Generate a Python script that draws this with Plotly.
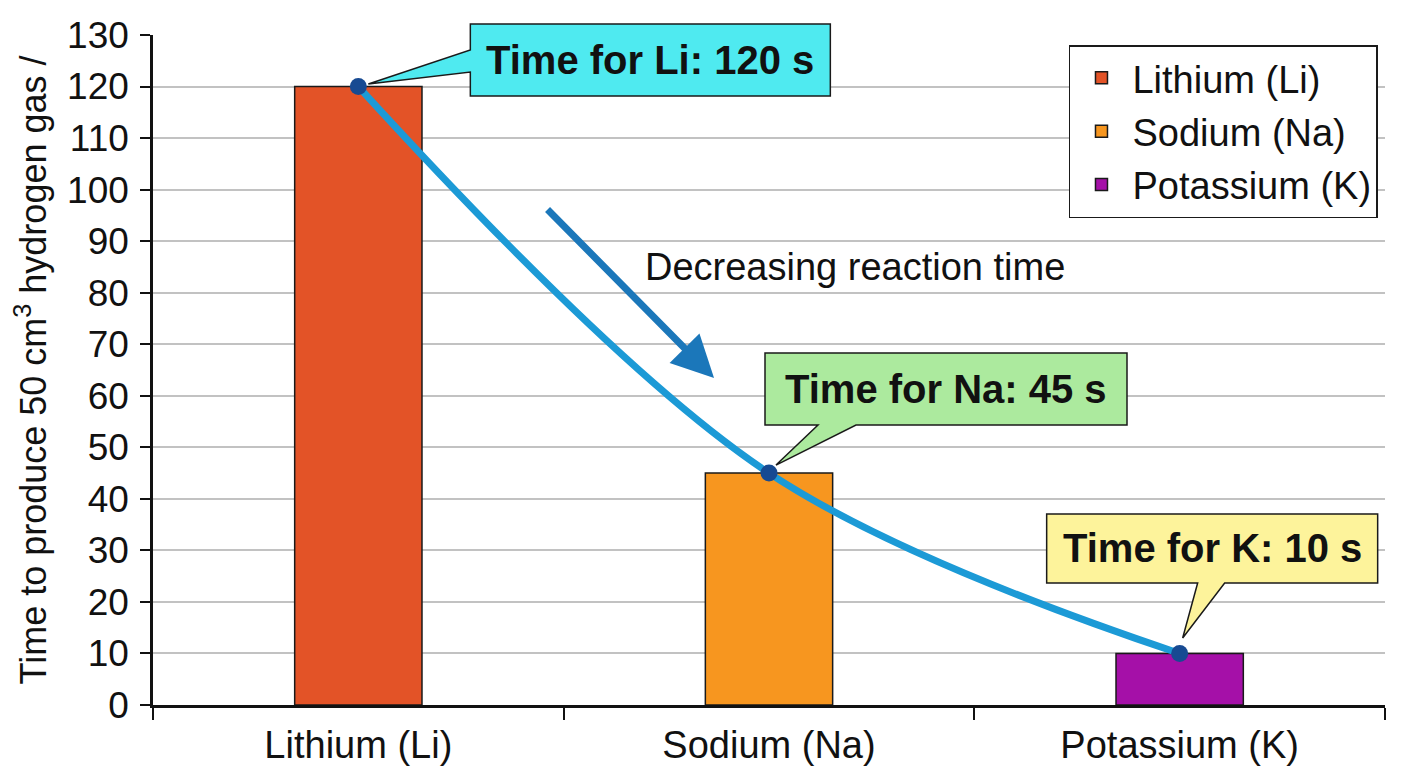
import plotly.graph_objects as go

# ---- data ----
metals = ["Lithium (Li)", "Sodium (Na)", "Potassium (K)"]
times = [120, 45, 10]
bar_colors = ["#e35327", "#f7961f", "#a510a8"]
callout_texts = ["Time for Li: 120 s", "Time for Na: 45 s", "Time for K: 10 s"]
callout_colors = ["#4feaf0", "#acea9e", "#fdf39b"]
y_ticks = list(range(0, 131, 10))
arrow_label = "Decreasing reaction time"
y_title = "Time to produce 50 cm<sup>3</sup> hydrogen gas /"

FONT = "Liberation Sans, Arial, sans-serif"
X_RANGE = [-0.5, 2.5]
Y_RANGE = [0, 130]

fig = go.Figure()

for name, val, col in zip(metals, times, bar_colors):
    fig.add_trace(go.Bar(
        x=[name], y=[val], name=name, width=0.31, legendgroup=name,
        marker=dict(color=col, line=dict(color="#1a1a1a", width=1.5)),
    ))

fig.add_trace(go.Scatter(
    x=metals, y=times, mode="lines+markers", showlegend=False,
    line=dict(color="#1c9ad6", width=7, shape="spline", smoothing=1),
    marker=dict(color="#174a92", size=17),
))

# speech-bubble callouts (pixel offsets relative to each data point)
bubble_paths = [
    "M 112,62.5 L 472,62.5 L 472,-9.5 L 112,-9.5 L 112,14.5 L 10,2.5 L 112,36.5 Z",
    "M -4,120 L 358,120 L 358,48 L 87,48 L 7,8 L 49,48 L -4,48 Z",
    "M -133,139.5 L 198,139.5 L 198,70.5 L 45,70.5 L 3,15.5 L 18,70.5 L -133,70.5 Z",
]
text_shift = [(292, 26.5), (177, 84), (32.5, 105)]

shapes = []
annotations = []
for i, (path, col) in enumerate(zip(bubble_paths, callout_colors)):
    # anchor each bubble on its data point, expressed in paper space (no clipping)
    ax_paper = (i - X_RANGE[0]) / (X_RANGE[1] - X_RANGE[0])
    ay_paper = (times[i] - Y_RANGE[0]) / (Y_RANGE[1] - Y_RANGE[0])
    shapes.append(dict(
        type="path", xref="paper", yref="paper", xsizemode="pixel", ysizemode="pixel",
        xanchor=ax_paper, yanchor=ay_paper, path=path,
        fillcolor=col, line=dict(color="#1a1a1a", width=1.5), layer="above",
    ))
    annotations.append(dict(
        xref="x", yref="y", x=metals[i], y=times[i],
        xshift=text_shift[i][0], yshift=text_shift[i][1],
        text="<b>" + callout_texts[i] + "</b>", showarrow=False,
        font=dict(family=FONT, size=40, color="#111111"),
    ))

# trend arrow
annotations.append(dict(
    xref="paper", yref="paper", x=0.4554, y=0.488, ax=-168, ay=-170,
    text="", showarrow=True, arrowhead=2, arrowsize=1.2, arrowwidth=7,
    arrowcolor="#1b77ba",
))
annotations.append(dict(
    xref="paper", yref="paper", x=(855 - 153) / 1232, y=(705 - 267) / 670,
    text=arrow_label, showarrow=False,
    font=dict(family=FONT, size=38, color="#111111"),
))

fig.update_layout(
    width=1400, height=760,
    margin=dict(l=145, r=23, t=27, b=63, autoexpand=False),
    paper_bgcolor="white", plot_bgcolor="white",
    barmode="overlay",
    font=dict(family=FONT, size=38, color="#111111"),
    shapes=shapes, annotations=annotations,
    legend=dict(
        x=0.9943, y=0.985, xanchor="right", yanchor="top",
        bgcolor="white", bordercolor="#1a1a1a", borderwidth=1.5,
        font=dict(family=FONT, size=38, color="#111111"),
        itemwidth=52, tracegroupgap=1,
    ),
    xaxis=dict(
        type="category", categoryorder="array", categoryarray=metals,
        range=X_RANGE, automargin=False,
        showline=True, linecolor="#111111", linewidth=3,
        ticks="outside", tickson="boundaries", ticklen=12, tickwidth=2,
        tickcolor="#111111", showgrid=False, ticklabelstandoff=4,
        tickfont=dict(family=FONT, size=38, color="#111111"),
    ),
    yaxis=dict(
        range=Y_RANGE, tickvals=y_ticks, automargin=False,
        showline=True, linecolor="#111111", linewidth=2.5,
        ticks="outside", ticklen=10, tickwidth=2, tickcolor="#111111",
        ticklabelstandoff=4,
        showgrid=True, gridcolor="#c2c2c2", gridwidth=1.5, zeroline=False,
        tickfont=dict(family=FONT, size=37, color="#111111"),
        title=dict(text=y_title, standoff=12,
                   font=dict(family=FONT, size=36, color="#111111")),
    ),
)

fig.write_html("out.html")
